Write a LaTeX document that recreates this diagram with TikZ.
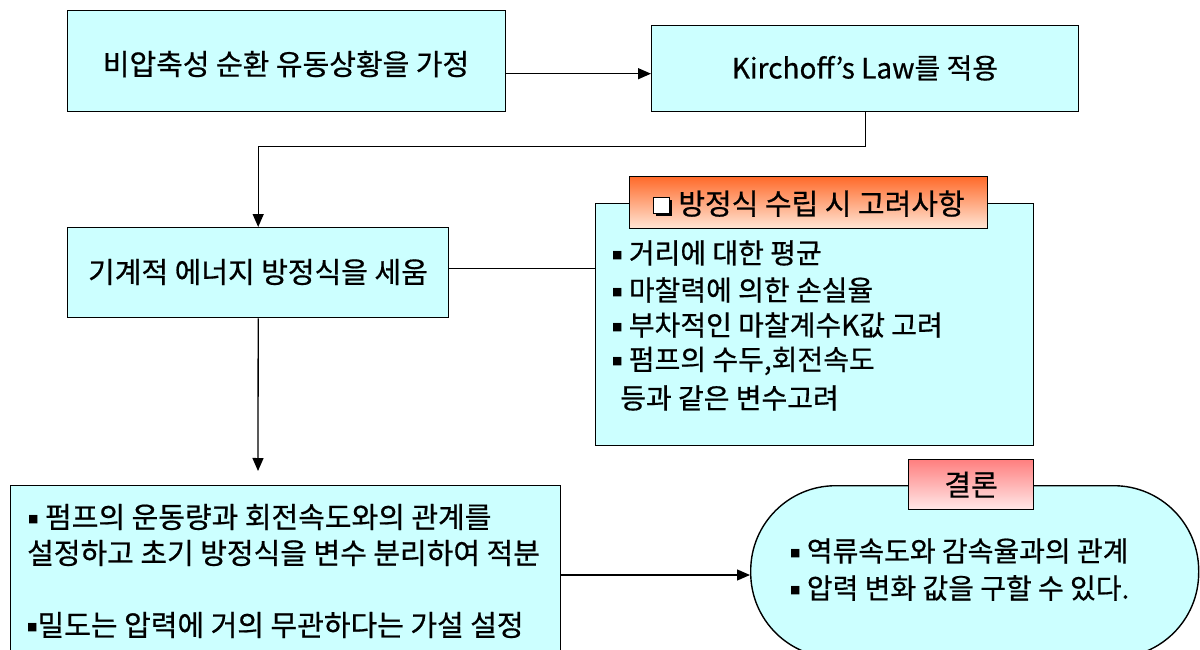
\documentclass[tikz,border=0pt]{standalone}
\usepackage{fontspec}
\setmainfont{Noto Sans CJK KR}[FakeBold=0.6]
\newfontfamily\symf{DejaVu Sans}
\usetikzlibrary{arrows.meta}
\definecolor{boxcyan}{HTML}{CCFFFF}
\definecolor{orangetop}{HTML}{FF6A2A}
\definecolor{orangebot}{HTML}{FFE6D6}
\definecolor{pinktop}{HTML}{FF7F7F}
\definecolor{pinkbot}{HTML}{FFE8E8}
\newcommand{\bul}{{\symf\fontsize{11}{13}\selectfont\raisebox{5pt}{■}}}
\newcommand{\shadowbox}{\tikz[baseline={(0,-1pt)}]{\fill[black] (2.5pt,-2.5pt) rectangle (18.5pt,13.5pt); \filldraw[fill=white,draw=black,line width=1.8pt] (0pt,0pt) rectangle (16pt,16pt);}}
\tikzset{
  box/.style={draw=black, line width=1.4pt, fill=boxcyan, inner sep=0pt, anchor=north west},
  txt/.style={font=\fontsize{29}{33}\selectfont, inner sep=0pt},
  itm/.style={font=\fontsize{28}{32}\selectfont, inner sep=0pt, anchor=west},
  big/.style={font=\fontsize{29}{33}\selectfont},
  arr/.style={line width=1.3pt, -{Triangle[length=13pt,width=11pt]}},
  conn/.style={line width=1.3pt},
}
\begin{document}
\begin{tikzpicture}[x=1pt,y=-1pt]
\useasboundingbox (0,0) rectangle (1200,650);
\clip (0,0) rectangle (1200,650);
% box 1
\node[box, minimum width=438pt, minimum height=101pt] (b1) at (67,10) {};
\node[txt] (t1) at (286,64) {비압축성 순환 유동상황을 가정};
% box 2
\node[box, minimum width=427pt, minimum height=86pt] (b2) at (651,25) {};
\node[txt, font=\fontsize{28}{32}\selectfont] (t2) at (865,68) {Kirchoff’s Law를 적용};
\draw[arr] ([yshift=-12.5pt]b1.east) -- ([yshift=-12.5pt]b1.east -| b2.west);
% box 3
\node[box, minimum width=381pt, minimum height=90pt] (b3) at (67,227) {};
\node[txt] (t3) at (258,272) {기계적 에너지 방정식을 세움};
\draw[arr] (b2.south) -- ++(0,34) -| (b3.north);
% box 4
\node[box, minimum width=438pt, minimum height=242pt] (b4) at (595,203) {};
\draw[conn] ([yshift=4pt]b3.east) -- ([yshift=4pt]b3.east -| b4.west);
\node[box, draw=black, line width=1.2pt, top color=orangetop, bottom color=orangebot, minimum width=358pt, minimum height=52pt] (tab1) at (629,176) {};
\node[txt] (tab1t) at ([yshift=-1pt]tab1.center) {\shadowbox\ 방정식 수립 시 고려사항};
\node[itm] (i1) at (612,253) {\bul\ 거리에 대한 평균};
\node[itm] (i2) at (612,290) {\bul\ 마찰력에 의한 손실율};
\node[itm] (i3) at (612,325) {\bul\ 부차적인 마찰계수K값 고려};
\node[itm] (i4) at (612,361) {\bul\ 펌프의 수두,회전속도};
\node[itm] (i5) at (620,398) {등과 같은 변수고려};
% box 5
\coordinate (b5tip) at (258,471);
\draw[arr] (b3.south) -- (b5tip);
\node[box, minimum width=550pt, minimum height=180pt] (b5) at (10,485) {};
\node[itm, big] (j1) at (28,517) {\bul\ 펌프의 운동량과 회전속도와의 관계를};
\node[itm, big] (j2) at (27,553) {설정하고 초기 방정식을 변수 분리하여 적분};
\node[itm, big] (j3) at (27,625) {\bul 밀도는 압력에 거의 무관하다는 가설 설정};
% box 6
\node[box, rounded corners=85pt, minimum width=448pt, minimum height=172pt] (b6) at (750,485) {};
\draw[arr] (b5.east |- 0,575) -- (b6.west |- 0,575);
\node[box, draw=black, line width=1.2pt, top color=pinktop, bottom color=pinkbot, minimum width=125pt, minimum height=50pt] (tab2) at (908,459) {};
\node[txt] (tab2t) at (tab2.center) {결론};
\node[itm, font=\fontsize{28}{32}\selectfont] (k1) at (790,551) {\bul\ 역류속도와 감속율과의 관계};
\node[itm, font=\fontsize{28}{32}\selectfont] (k2) at (790,588) {\bul\ 압력 변화 값을 구할 수 있다.};
\end{tikzpicture}
\end{document}
